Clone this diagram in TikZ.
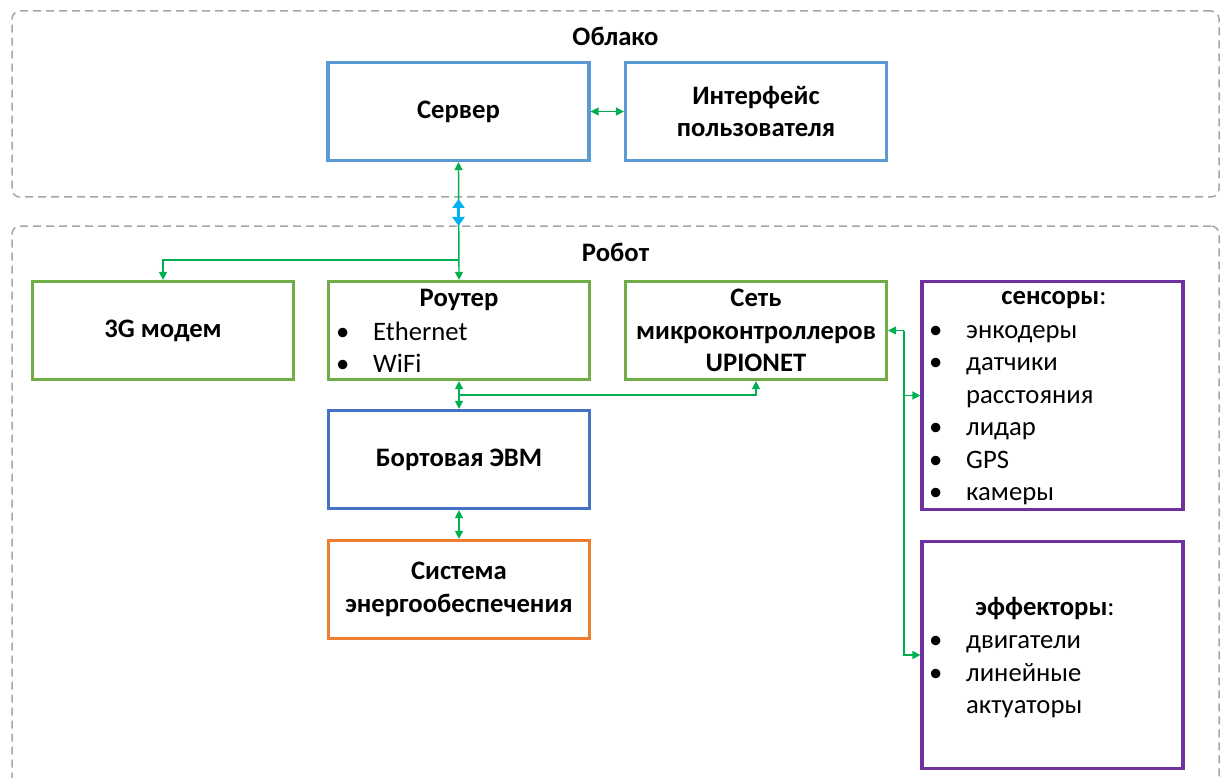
\documentclass[tikz,border=0pt]{standalone}
\usepackage{fontspec}
\setmainfont{Carlito}
\usetikzlibrary{arrows.meta}
\definecolor{grpgray}{HTML}{A6A6A6}
\definecolor{srvblue}{HTML}{5B9BD5}
\definecolor{boxgreen}{HTML}{70AD47}
\definecolor{evmblue}{HTML}{4472C4}
\definecolor{pwrorange}{HTML}{ED7D31}
\definecolor{snspurple}{HTML}{7030A0}
\definecolor{lnkgreen}{HTML}{00B050}
\definecolor{lnkcyan}{HTML}{00B0F0}
\newcommand\bodyfont{\fontsize{26.67pt}{32.5pt}\selectfont}
\newcommand\bul{\makebox[37pt][l]{•}}
\newcommand\nobul{\hspace*{37pt}}
\tikzset{
  group/.style={draw=grpgray, line width=1.5pt, dash pattern=on 8pt off 5pt,
    rounded corners=8pt, minimum width=1207pt, inner sep=0pt},
  box/.style={draw=#1, line width=3.2pt, minimum width=261pt, minimum height=98pt,
    inner sep=0pt, align=center, font=\bfseries\bodyfont},
  ttl/.style={font=\bfseries\bodyfont, inner sep=0pt, align=center},
  lst/.style={font=\bodyfont, inner sep=0pt, align=left},
  link/.style={draw=lnkgreen, line width=1.4pt, {Triangle[length=8pt,width=8pt]}-{Triangle[length=8pt,width=8pt]}},
  uni/.style={draw=lnkgreen, line width=1.4pt, -{Triangle[length=8pt,width=8pt]}},
  cyanlink/.style={draw=lnkcyan, line width=2.4pt, {Triangle[length=9pt,width=12pt]}-{Triangle[length=9pt,width=12pt]}}
}
\begin{document}
\begin{tikzpicture}[x=1pt,y=-1pt]
\clip (0,0) rectangle (1223,778);
\fill[white] (0,0) rectangle (1223,778);
% groups
\node[group, minimum height=186pt] (cloud) at (615.5,104) {};
\node[group, minimum height=566pt] (robot) at (615.5,509) {};
\node[ttl] (cloudt) at (615.5,36) {Облако};
\node[ttl] (robott) at (615.5,252) {Робот};
% boxes
\node[box=srvblue] (server) at (458.5,111.5) {Сервер};
\node[box=srvblue] (iface) at (756,111.5) {Интерфейс\\пользователя};
\node[box=boxgreen] (modem) at (163,330.5) {3G модем};
\node[box=boxgreen] (router) at (459,330.5) {};
\node[ttl] (routert) at (459,300) {Роутер};
\node[lst, anchor=west] (routerl) at (336,347) {\bul Ethernet\\\bul WiFi};
\node[box=boxgreen] (net) at (756,330.5) {Сеть\\микроконтроллеров\\UPIONET};
\node[box=snspurple, minimum height=228pt] (sens) at (1052.5,395.5) {};
\node[ttl] (senst) at (1054,300) {сенсоры\textmd{:}};
\node[lst, anchor=west] (sensl) at (929,415) {\bul энкодеры\\\bul датчики\\\nobul расстояния\\\bul лидар\\\bul GPS\\\bul камеры};
\node[box=snspurple, minimum height=227pt] (eff) at (1052.5,655) {};
\node[ttl] (efft) at (1045,609) {эффекторы\textmd{:}};
\node[lst, anchor=west] (effl) at (929,677) {\bul двигатели\\\bul линейные\\\nobul актуаторы};
\node[box=evmblue] (evm) at (459,459.5) {Бортовая ЭВМ};
\node[box=pwrorange] (power) at (459,589.5) {Система\\энергообеспечения};
% connectors
\draw[link] (server.south) -- (router.north);
\coordinate (cyTop) at (server.south |- 0,199);
\coordinate (cyBot) at (server.south |- 0,226);
\draw[cyanlink] (cyTop) -- (cyBot);
\coordinate (mbr) at (router.north |- 0,260);
\draw[uni] (mbr) -| (modem.north);
\draw[link] (server.east) -- (iface.west);
\draw[link] (router.south) -- (evm.north);
\coordinate (nbr) at (router.south |- 0,395);
\draw[uni] (nbr) -| (net.south);
\draw[link] (evm.south) -- (power.north);
\coordinate (bus) at (904,330.5);
\draw[uni] (bus) -- (net.east);
\draw[uni] (bus) |- (eff.west);
\draw[uni] (sens.west -| bus) -- (sens.west);
\end{tikzpicture}
\end{document}
